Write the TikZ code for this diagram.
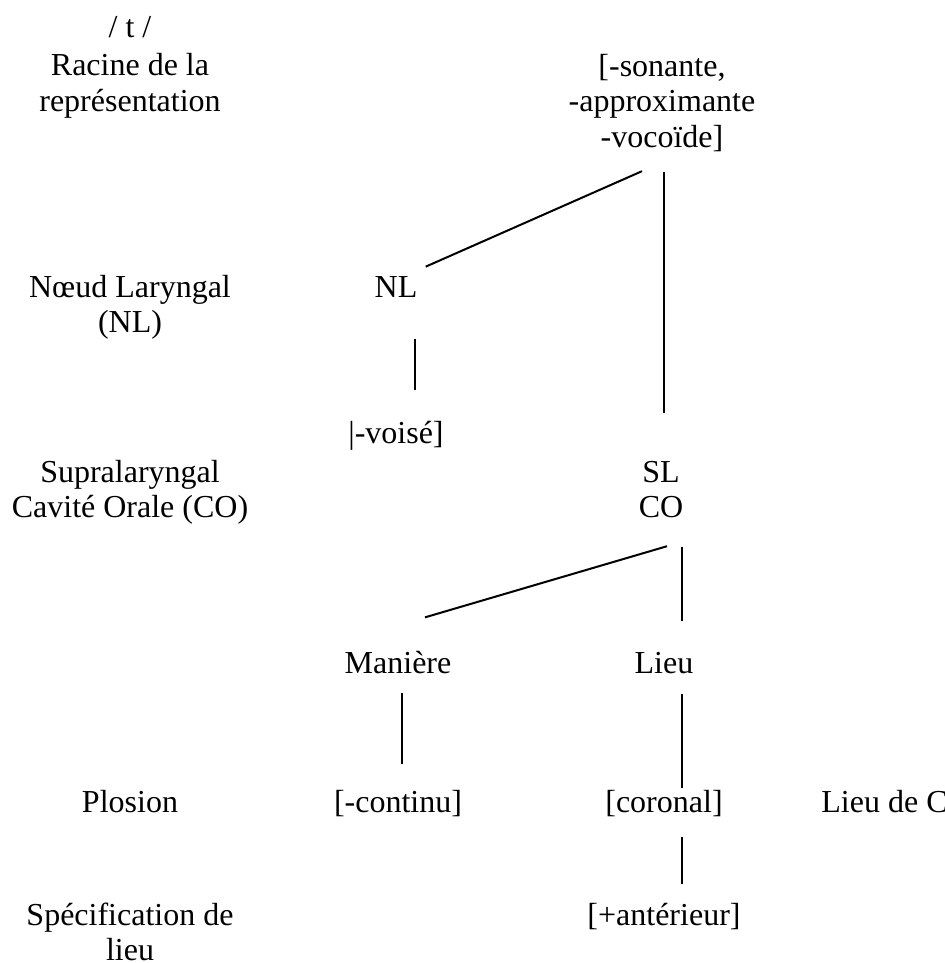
\documentclass[tikz,border=0pt]{standalone}
\usepackage{fontspec}
\setmainfont{Liberation Serif}
\usetikzlibrary{calc}

\begin{document}
\begin{tikzpicture}[
    x=0.5pt, y=-0.5pt,
    every node/.style={font=\fontsize{16}{17.75}\selectfont},
    tier/.style={align=center, inner sep=0pt, anchor=base},
    feat/.style={align=center, inner sep=0pt, anchor=base},
    branch/.style={line width=1pt}
]
\useasboundingbox (0,0) rectangle (945,963);

% Tier labels on the left (base = last line)
\node[tier] (seg) at (130,38) {/ t /};
\node[tier] (racine) at (130,111.5) {Racine de la\\représentation};
\node[tier] (laryng) at (130,332.5) {Nœud Laryngal\\(NL)};
\node[tier] (supra) at (130,517.5) {Supralaryngal\\Cavité Orale (CO)};
\node[tier] (plosion) at (130,812) {Plosion};
\node[tier] (specif) at (130,960.5) {Spécification de\\lieu};

% Feature tree
\node[feat] (root) at (662,147.5) {[-sonante,\\-approximante\\-vocoïde]};
\node[feat] (nl) at (396,297) {NL};
\node[feat] (voise) at (396,443) {|-voisé]};
\node[feat] (slco) at (661,517.5) {SL\\CO};
\node[feat] (maniere) at (398,673) {Manière};
\node[feat] (lieu) at (664,673) {Lieu};
\node[feat] (continu) at (398,812) {[-continu]};
\node[feat] (coronal) at (664,812) {[coronal]};
\node[feat, anchor=base west] (lieuc) at (821,812) {Lieu de C};
\node[feat] (anterieur) at (664,925) {[+antérieur]};

% Connections
\draw[branch] ($(root.south)+(-20,19)$) -- ($(nl.north east)+(8,-9)$);
\draw[branch] ($(root.south)+(2,20)$) -- ($(slco.north)+(3,-47)$);
\draw[branch] ($(nl.south)+(19,42)$) -- ($(voise.north)+(19,-30)$);
\draw[branch] ($(slco.south)+(6,28)$) -- ($(maniere.north)+(27,-33)$);
\draw[branch] ($(slco.south)+(21,29)$) -- ($(lieu.north)+(18,-30)$);
\draw[branch] ($(maniere.south)+(4,19)$) -- ($(continu.north)+(4,-25)$);
\draw[branch] ($(lieu.south)+(18,20)$) -- ($(coronal.north)+(18,-1)$);
\draw[branch] ($(coronal.south)+(18,20)$) -- ($(anterieur.north)+(18,-18)$);

\end{tikzpicture}
\end{document}
